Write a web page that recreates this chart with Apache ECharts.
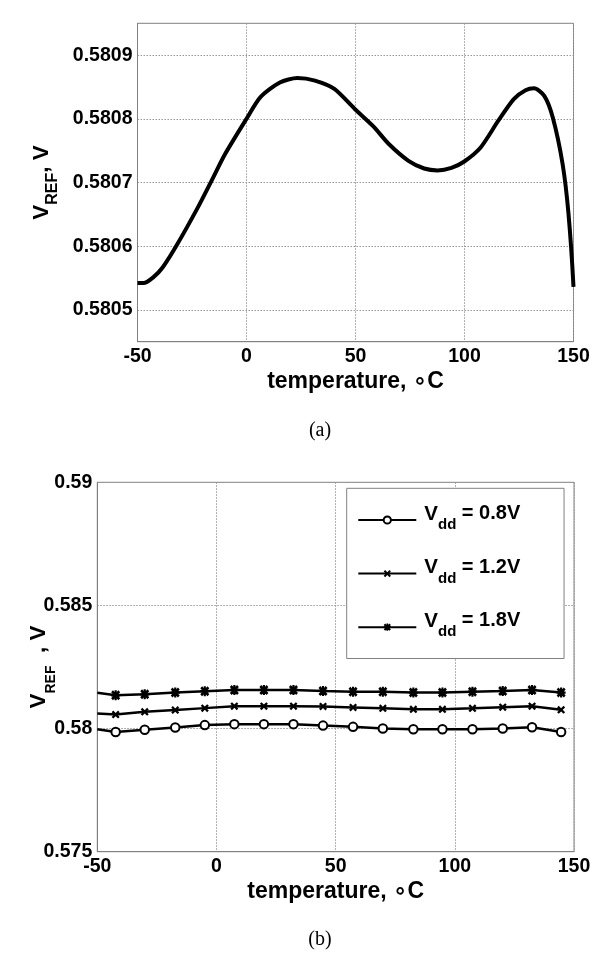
<!DOCTYPE html>
<html>
<head>
<meta charset="utf-8">
<script src="https://cdn.jsdelivr.net/npm/echarts@6/dist/echarts.min.js"></script>
<style>
html,body{margin:0;padding:0;background:#fff;}
#main{width:610px;height:967px;}
</style>
</head>
<body>
<div id="main"></div>
<script>
// ---- (a) V_REF vs temperature ----
const tempA = [-50, -47.3, -42.8, -38.4, -32.1, -22.3, -16.0, -9.75, 0, 6.4, 15.3, 23.3, 31.4, 40.3, 49.8, 58.2, 65.4, 74.3, 81.5, 87.7, 94.0, 99.9, 107.4, 115.5, 122.6, 128.0, 131.9, 136.6, 140.5, 145.0, 147.7, 150];
const vrefA = [0.580542, 0.580542, 0.580551, 0.580567, 0.580601, 0.580661, 0.580703, 0.580745, 0.5808, 0.580834, 0.580857, 0.580864, 0.58086, 0.580847, 0.580815, 0.580788, 0.58076, 0.580734, 0.580722, 0.580719, 0.580723, 0.580733, 0.580755, 0.580797, 0.580831, 0.580845, 0.580848, 0.580836, 0.580802, 0.580729, 0.580651, 0.580536];

// ---- (b) V_REF vs temperature for three supply voltages ----
const tempB = [-50, -42.3, -30.1, -17.3, -4.9, 7.5, 19.9, 32.3, 44.7, 57.3, 69.8, 82.6, 94.8, 107.4, 120.1, 132.4, 144.6];
const vdd08 = [0.57997, 0.57986, 0.57995, 0.58004, 0.58014, 0.58018, 0.58018, 0.58018, 0.58012, 0.58007, 0.58000, 0.57997, 0.57997, 0.57997, 0.58000, 0.58005, 0.57986];
const vdd12 = [0.58061, 0.58057, 0.58068, 0.58075, 0.58083, 0.58091, 0.58091, 0.58091, 0.58090, 0.58086, 0.58082, 0.58078, 0.58078, 0.58082, 0.58087, 0.58091, 0.58076];
const vdd18 = [0.58145, 0.58135, 0.58139, 0.58146, 0.58152, 0.58157, 0.58157, 0.58157, 0.58153, 0.58149, 0.58149, 0.58146, 0.58146, 0.58150, 0.58153, 0.58157, 0.58146];
const vddLabels = ['0.8V', '1.2V', '1.8V'];

// axis ticks
const xTicks = [-50, 0, 50, 100, 150];
const yTicksA = [0.5805, 0.5806, 0.5807, 0.5808, 0.5809];
const yTicksB = [0.575, 0.58, 0.585, 0.59];

const FONT = "'Liberation Sans', Arial, 'DejaVu Sans', sans-serif";
const SERIF = "'Liberation Serif', 'Times New Roman', serif";
const xMark = 'path://M0,2L2,0L5,3L8,0L10,2L7,5L10,8L8,10L5,7L2,10L0,8L3,5Z';
const starMark = 'path://M0,2L2,0L5,3L8,0L10,2L7,5L10,8L8,10L5,7L2,10L0,8L3,5Z M3.8,0L6.2,0L6.2,3.8L10,3.8L10,6.2L6.2,6.2L6.2,10L3.8,10L3.8,6.2L0,6.2L0,3.8L3.8,3.8Z';

const chart = echarts.init(document.getElementById('main'));

function pairs(xs, ys, hideFirst) {
  return xs.map((x, i) => (hideFirst && i === 0) ? { value: [x, ys[i]], symbol: 'none' } : [x, ys[i]]);
}

const tickLabel = { color: '#000', fontFamily: FONT, fontWeight: 'bold', fontSize: 19.5 };
const gridLine = { show: true, lineStyle: { color: '#999', width: 1, type: [1.5, 1.5] } };
const axisLine = { show: true, onZero: false, lineStyle: { color: '#808080', width: 1 } };

function xAxisFor(gridIndex) {
  return {
    type: 'value', gridIndex: gridIndex, min: xTicks[0], max: xTicks[xTicks.length - 1], interval: 50,
    axisLine: axisLine, axisTick: { show: false }, splitLine: gridLine,
    axisLabel: Object.assign({ margin: 5 }, tickLabel),
    name: 'temperature, \u2218C', nameLocation: 'middle', nameGap: 28.5, nameMoveOverlap: false,
    nameTextStyle: { color: '#000', fontFamily: FONT, fontWeight: 'bold', fontSize: 23 }
  };
}

const names = vddLabels.map(v => 'Vdd = ' + v);

chart.setOption({
  animation: false,
  backgroundColor: '#fff',
  grid: [
    { left: 137.5, top: 23.3, width: 436, height: 318.4, show: true, borderColor: '#808080', borderWidth: 1, backgroundColor: 'transparent' },
    { left: 97.3, top: 482.3, width: 476.7, height: 369.4, show: true, borderColor: '#808080', borderWidth: 1, backgroundColor: 'transparent' }
  ],
  xAxis: [xAxisFor(0), xAxisFor(1)],
  yAxis: [
    {
      type: 'value', gridIndex: 0, min: 0.58045, max: 0.58095, splitNumber: 5,
      axisLine: axisLine, axisTick: { show: false }, splitLine: gridLine,
      axisLabel: Object.assign({ margin: 5, showMinLabel: false, showMaxLabel: false,
        formatter: v => yTicksA.some(t => Math.abs(t - v) < 1e-9) ? v.toFixed(4) : '' }, tickLabel),
      name: '{m|V}{s|REF}{m|, V}', nameLocation: 'middle', nameRotate: 90, nameGap: 76.5, nameMoveOverlap: false,
      nameTextStyle: {
        color: '#000', fontFamily: FONT, fontWeight: 'bold',
        rich: {
          m: { fontFamily: FONT, fontWeight: 'bold', fontSize: 22.5, color: '#000', verticalAlign: 'top' },
          s: { fontFamily: FONT, fontWeight: 'bold', fontSize: 16, color: '#000', verticalAlign: 'top', padding: [15, 0, 0, 0] }
        }
      }
    },
    {
      type: 'value', gridIndex: 1, min: yTicksB[0], max: yTicksB[yTicksB.length - 1], interval: 0.005,
      axisLine: axisLine, axisTick: { show: false }, splitLine: gridLine,
      axisLabel: Object.assign({ margin: 5, formatter: v => String(+v.toFixed(3)) }, tickLabel),
      name: '{m|V}{s|REF}{m|  , V}', nameLocation: 'middle', nameRotate: 90, nameGap: 39.5, nameMoveOverlap: false,
      nameTextStyle: {
        color: '#000', fontFamily: FONT, fontWeight: 'bold',
        rich: {
          m: { fontFamily: FONT, fontWeight: 'bold', fontSize: 22.5, color: '#000', verticalAlign: 'top' },
          s: { fontFamily: FONT, fontWeight: 'bold', fontSize: 14, color: '#000', verticalAlign: 'top', padding: [17, 0, 0, 0] }
        }
      }
    }
  ],
  legend: {
    data: names,
    orient: 'vertical',
    left: 346.7, top: 488.3,
    padding: [15.2, 43.8, 18.8, 10.6],
    itemGap: 24.6,
    itemWidth: 58, itemHeight: 9,
    backgroundColor: '#fff',
    borderColor: '#808080', borderWidth: 1,
    selectedMode: false,
    lineStyle: { width: 2 },
    formatter: n => '{m|V}{s|dd}{r| ' + n.split(' ').slice(1).join(' ') + '}',
    textStyle: {
      color: '#000', fontFamily: FONT, fontWeight: 'bold',
      rich: {
        m: { fontFamily: FONT, fontWeight: 'bold', fontSize: 20.5, color: '#000', verticalAlign: 'top', padding: [0, 0, 0, 3] },
        r: { fontFamily: FONT, fontWeight: 'bold', fontSize: 20, color: '#000', verticalAlign: 'top' },
        s: { fontFamily: FONT, fontWeight: 'bold', fontSize: 15, color: '#000', verticalAlign: 'top', padding: [14, 0, 4, 0] }
      }
    }
  },
  graphic: [
    { type: 'text', x: 320, y: 431, style: { text: '(a)', fill: '#000', font: 'normal 20px ' + SERIF, textAlign: 'center', textVerticalAlign: 'middle' } },
    { type: 'text', x: 320, y: 940, style: { text: '(b)', fill: '#000', font: 'normal 20px ' + SERIF, textAlign: 'center', textVerticalAlign: 'middle' } }
  ],
  series: [
    {
      type: 'line', xAxisIndex: 0, yAxisIndex: 0, data: pairs(tempA, vrefA, false),
      showSymbol: false, smooth: 0.25, lineStyle: { color: '#000', width: 4 }, itemStyle: { color: '#000' }, z: 3
    },
    {
      name: names[0], type: 'line', xAxisIndex: 1, yAxisIndex: 1, data: pairs(tempB, vdd08, true),
      symbol: 'emptyCircle', symbolSize: 8.5, lineStyle: { color: '#000', width: 2.5 },
      itemStyle: { color: '#000', borderColor: '#000', borderWidth: 2 }, z: 3
    },
    {
      name: names[1], type: 'line', xAxisIndex: 1, yAxisIndex: 1, data: pairs(tempB, vdd12, true),
      symbol: xMark, symbolSize: 8, lineStyle: { color: '#000', width: 2.5 },
      itemStyle: { color: '#000', borderWidth: 0 }, z: 3
    },
    {
      name: names[2], type: 'line', xAxisIndex: 1, yAxisIndex: 1, data: pairs(tempB, vdd18, true),
      symbol: starMark, symbolSize: [9, 10], lineStyle: { color: '#000', width: 2.5 },
      itemStyle: { color: '#000', borderWidth: 0 }, z: 3
    }
  ]
});
</script>
</body>
</html>
